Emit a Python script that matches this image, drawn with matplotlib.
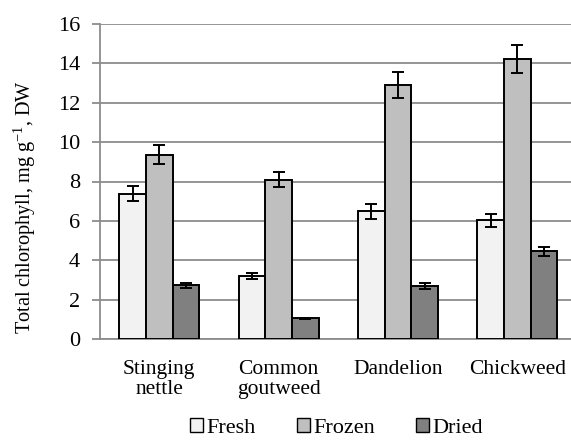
import matplotlib
matplotlib.use("Agg")
import matplotlib.pyplot as plt
import numpy as np
from matplotlib.patches import Patch

categories = ["Stinging\nnettle", "Common\ngoutweed", "Dandelion", "Chickweed"]
series = ["Fresh", "Frozen", "Dried"]
fresh = [7.38, 3.21, 6.48, 6.02]
frozen = [9.37, 8.10, 12.90, 14.21]
dried = [2.73, 1.05, 2.70, 4.46]
fresh_err = [0.37, 0.15, 0.36, 0.31]
frozen_err = [0.47, 0.40, 0.66, 0.72]
dried_err = [0.13, 0.04, 0.14, 0.22]
colors = ["#F2F2F2", "#BFBFBF", "#808080"]
yticks = [0, 2, 4, 6, 8, 10, 12, 14, 16]

plt.rcParams['font.family'] = ['Liberation Serif', 'DejaVu Serif']
plt.rcParams['mathtext.fontset'] = 'custom'
plt.rcParams['mathtext.rm'] = 'Liberation Serif'
plt.rcParams['mathtext.it'] = 'Liberation Serif:italic'
plt.rcParams['mathtext.default'] = 'regular'

fig = plt.figure(figsize=(5.71, 4.41), dpi=100)
ax = fig.add_axes([99.5/571, 1-339/441, (577-99.5)/571, (339-24)/441])

x = np.arange(len(categories))
w = 0.2232
data = [fresh, frozen, dried]
errs = [fresh_err, frozen_err, dried_err]
for i, (vals, e, c) in enumerate(zip(data, errs, colors)):
    ax.bar(x + (i-1)*w, vals, width=w, color=c, edgecolor='black', linewidth=1.4, zorder=3)
    ax.errorbar(x + (i-1)*w, vals, yerr=e, fmt='none', ecolor='black',
                elinewidth=1.4, capsize=4.2, capthick=1.4, zorder=4)

ax.set_xlim(-0.5, 3.5)
ax.set_ylim(0, 16)
ax.set_yticks(yticks)
ax.yaxis.grid(True, color='#8C8C8C', linewidth=1.3, zorder=0)
ax.set_axisbelow(True)
for s in ['top', 'right']:
    ax.spines[s].set_visible(False)
ax.spines['left'].set_color('#8C8C8C')
ax.spines['left'].set_linewidth(1.3)
ax.spines['bottom'].set_color('#8C8C8C')
ax.spines['bottom'].set_linewidth(1.3)
ax.tick_params(axis='y', direction='out', length=6, width=1.3, color='#8C8C8C', labelsize=16, pad=8)
ax.tick_params(axis='x', length=0, labelsize=15.5, pad=15)
ax.set_xticks(x)
ax.set_xticklabels(categories, linespacing=1.1)
ax.set_ylabel("Total chlorophyll, mg g$^{-1}$, DW", fontsize=14.6)
ax.yaxis.set_label_coords(-0.128, 0.419)

handles = [Patch(facecolor=c, edgecolor='black', linewidth=1.0) for c in colors]
fig.legend(handles, series, loc='center', bbox_to_anchor=(0.589, 0.029), ncol=3,
           frameon=False, fontsize=16, handlelength=0.59, handleheight=0.59,
           handletextpad=0.14, columnspacing=1.85, borderpad=0)

fig.savefig("out.png", dpi=100)
